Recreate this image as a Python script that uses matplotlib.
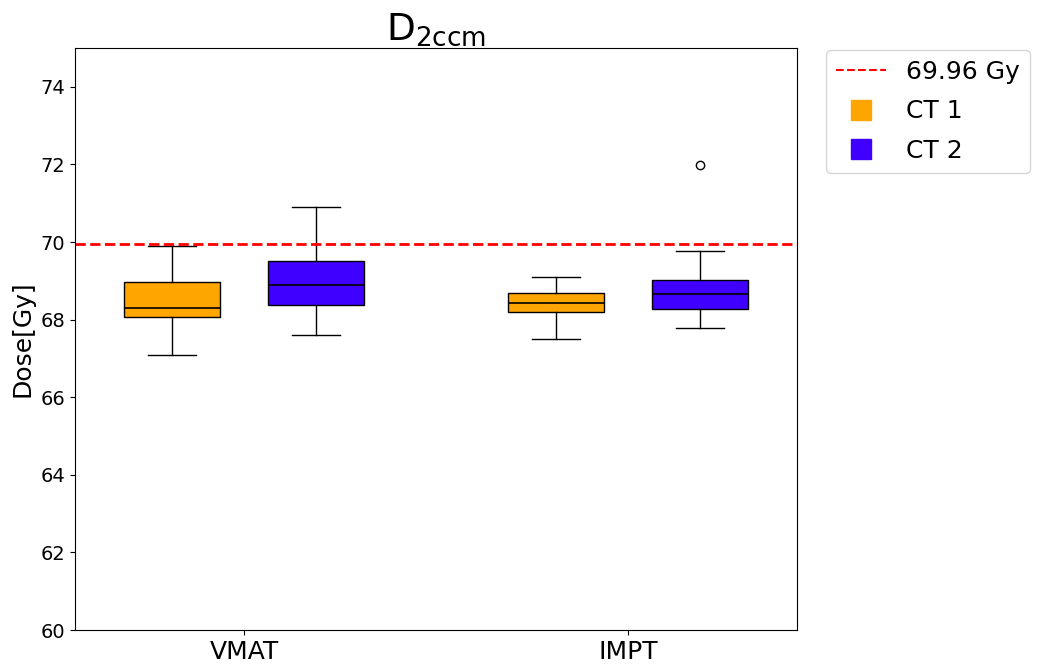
import numpy as np
import matplotlib
matplotlib.use("Agg")
import matplotlib.pyplot as plt
from matplotlib.lines import Line2D

# box statistics (Gy)
groups = ["VMAT", "IMPT"]
series = ["CT 1", "CT 2"]
colors = ["orange", "#4000ff"]
whislo = [[67.10, 67.51], [67.61, 67.78]]   # [series][group]
q1     = [[68.07, 68.20], [68.37, 68.27]]
med    = [[68.31, 68.44], [68.89, 68.65]]
q3     = [[68.96, 68.68], [69.51, 69.02]]
whishi = [[69.89, 69.10], [70.89, 69.78]]
fliers = [[[], []], [[], [71.99]]]
ref_dose = 69.96

fig = plt.figure(figsize=(10.46, 6.64), dpi=100)
ax = fig.add_axes([0.0717, 0.0512, 0.6903, 0.8765])

offset = 0.1875
width = 0.25
for s in range(len(series)):
  stats = []
  for g in range(len(groups)):
    stats.append(dict(whislo=whislo[s][g], q1=q1[s][g], med=med[s][g],
                      q3=q3[s][g], whishi=whishi[s][g], fliers=fliers[s][g]))
  pos = np.arange(len(groups)) + (s - 0.5) * 2 * offset
  ax.bxp(stats, positions=pos, widths=width, patch_artist=True,
         boxprops=dict(facecolor=colors[s], edgecolor="black"),
         medianprops=dict(color="black", linewidth=1.2),
         flierprops=dict(marker="o", markerfacecolor="none", markeredgecolor="black"))

ax.axhline(ref_dose, color="red", linestyle="--", linewidth=2)

ax.set_xlim(-0.44, 1.44)
ax.set_ylim(60, 75)
ax.set_xticks(np.arange(len(groups)))
ax.set_xticklabels(groups, fontsize=18)
ax.tick_params(axis="y", labelsize=14)
ax.set_ylabel("Dose[Gy]", fontsize=18)
ax.set_title(r"$\mathregular{D_{2ccm}}$", fontsize=27)

handles = [Line2D([], [], color="red", linestyle="--", label="%.2f Gy" % ref_dose)]
for s in range(len(series)):
  handles.append(Line2D([], [], color=colors[s], marker="s", linestyle="none",
                        markersize=15, label=series[s]))
ax.legend(handles=handles, loc="upper left", bbox_to_anchor=(1.04, 0.997),
          fontsize=18, borderaxespad=0, labelspacing=0.62)

fig.savefig("out.png", dpi=100)
